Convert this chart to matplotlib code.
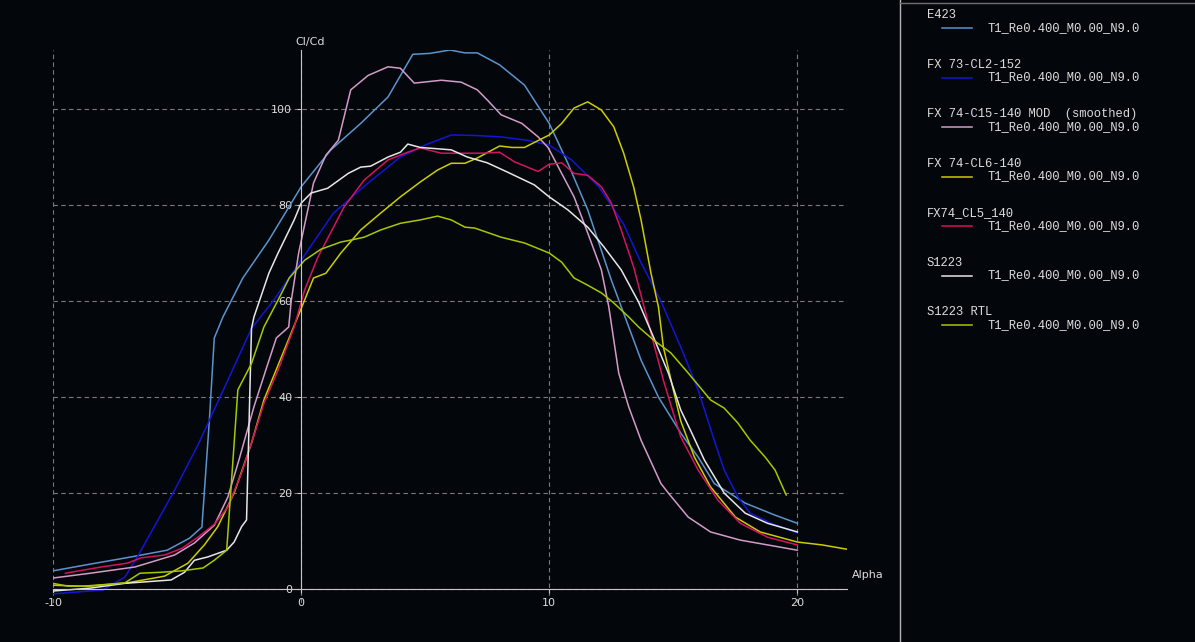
import matplotlib
matplotlib.use("Agg")
import matplotlib.pyplot as plt
from matplotlib.lines import Line2D

plt.rcParams["axes.unicode_minus"] = False

# --- data (Cl/Cd vs Alpha) ---
e423_a = [-10, -8.5, -6.85, -5.4, -4.5, -4.0, -3.7, -3.5, -3.15, -2.35, -1.3, 0, 1.2, 2.4, 3.5,
          4.5, 5.2, 6.0, 6.6, 7.1, 8.0, 9.0, 10.0, 10.75, 11.55, 12.5, 13.7, 14.4, 15.3, 16.0,
          16.65, 17.9, 19.1, 20.0]
e423_v = [3.8, 5.2, 6.7, 8.1, 10.6, 12.9, 35, 52.3, 56.7, 64.8, 72.7, 83.8, 91.5, 97, 102.5,
          111.4, 111.6, 112.3, 111.7, 111.7, 109.2, 105, 97, 88.7, 79, 64.4, 47.7, 40, 32.5, 27.5,
          22, 17.9, 15.4, 13.7]

fx73_a = [-10, -8, -7.1, -6.6, -5.1, -4.16, -3, -2.0, -1.1, 0, 1.3, 2.7, 4.0, 5.0, 6.05, 7, 8.06,
          9.1, 10.0, 10.9, 12.0, 13.0, 13.7, 14.5, 15.35, 16.0, 16.65, 17.05, 17.6, 18.1, 18.95, 20.0]
fx73_v = [-1, -0.2, 2.5, 6.7, 20.6, 30, 43, 54.3, 60.2, 68.5, 78.3, 84.6, 90, 92.5, 94.6, 94.5, 94.2,
          93.5, 92.5, 89.4, 83.8, 76, 68, 60, 49.8, 41.5, 31, 24.8, 19.2, 15.8, 13.7, 11.7]

fx74mod_a = [-10, -8.5, -6.7, -5.1, -4.3, -3.5, -2.95, -2.5, -1.9, -1.4, -1.0, -0.5, -0.4, -0.1,
             0.5, 1.0, 1.5, 2.0, 2.7, 3.5, 4.0, 4.56, 5.65, 6.45, 7.1, 7.5, 8.06, 8.9, 9.55, 9.95,
             10.5, 11.0, 11.55, 12.1, 12.4, 12.8, 13.2, 13.7, 14.5, 14.8, 15.6, 16.5, 17.7, 18.8, 20.0]
fx74mod_v = [2.3, 3.3, 4.6, 7.1, 9.6, 13.3, 19.2, 27, 38, 46, 52.3, 54.6, 60, 70,
             84.6, 90.4, 93.5, 104, 107, 108.8, 108.5, 105.4, 106, 105.6, 104, 101.9, 98.8, 97, 94.2, 92,
             86.6, 81.7, 74.2, 66.5, 58.8, 45, 38, 31, 22, 20, 15, 11.9, 10.2, 9.2, 8.1]

fx74cl6_a = [-10, -8.8, -7, -5.5, -4.56, -3.9, -3.36, -2.7, -2.0, -1.5, -0.68, 0.14, 0.5, 1.0, 1.6,
             2.4, 3.2, 4.0, 4.8, 5.5, 6.05, 6.6, 7.1, 8.0, 8.5, 9.0, 10.0, 10.5, 11.0, 11.55, 12.1,
             12.6, 13.0, 13.4, 13.7, 14.1, 14.4, 14.6, 15.0, 15.3, 15.85, 16.5, 17.5, 18.5, 20.0,
             21.0, 22.0]
fx74cl6_v = [0.8, 0.6, 1.3, 2.7, 5.4, 9.2, 13, 20, 30.4, 39.4, 49.8, 60.2, 64.8, 65.8, 70,
             74.8, 78.3, 81.7, 84.8, 87.3, 88.7, 88.7, 89.8, 92.3, 92, 92, 94.6, 97, 100.2, 101.5, 99.8,
             96.3, 90.8, 83.8, 76.9, 65.8, 58.8, 50.4, 41.5, 35, 27.5, 21.3, 15, 11.9, 9.8,
             9.2, 8.3]

fx74cl5_a = [-9.5, -8.06, -7, -6.45, -5.5, -4.8, -4.16, -3.5, -2.95, -2.4, -2.0, -1.5, -0.93, -0.28,
             0.14, 0.68, 1.73, 2.54, 3.5, 4.3, 4.8, 5.65, 6.45, 7.26, 8.0, 8.6, 9.55, 10.0, 10.5,
             11.0, 11.55, 12.1, 12.5, 12.9, 13.4, 14.1, 14.6, 15.05, 15.3, 16.0, 16.8, 17.7, 18.8, 20.0]
fx74cl5_v = [3.3, 4.6, 5.4, 6.5, 7.1, 8.5, 10.8, 13.5, 17.1, 24.2, 30.4, 38.7, 45.6, 54.6,
             62.3, 69.2, 79.6, 85.2, 89.4, 91, 91.9, 90.8, 90.8, 90.8, 91, 89, 87, 88.5, 88.8,
             86.6, 86.2, 83.8, 80.4, 74.8, 67.1, 53.3, 43.5, 35.8, 31.7, 24.8, 18.5, 13.7, 10.8, 9.2]

s1223_a = [-10, -8.5, -7.1, -6.3, -5.24, -4.7, -4.3, -3.76, -3.0, -2.7, -2.4, -2.2, -2.0, -1.9,
           -1.3, -0.93, -0.28, 0, 0.4, 1.07, 1.9, 2.4, 2.8, 3.5, 4.0, 4.3, 4.8, 6.05, 6.7, 7.5, 8.3,
           9.4, 10.0, 10.75, 11.55, 12.2, 12.9, 13.6, 14.2, 14.8, 15.3, 15.7, 16.25, 17.05, 17.9,
           18.8, 20.0]
s1223_v = [-0.4, 0.2, 1.2, 1.5, 1.9, 3.5, 6.0, 6.7, 8.1, 9.8, 13, 14.4, 54.3, 56.7,
           65.8, 70, 76.9, 80.4, 82.5, 83.5, 86.6, 87.9, 88.1, 90, 91, 92.7, 92, 91.5, 90, 88.8, 86.9,
           84.2, 81.7, 79, 75.4, 71.3, 66.5, 59.8, 52.5, 45, 37.3, 33, 26.9, 20, 15.8,
           13.7, 11.9]

s1223rtl_a = [-10, -9.4, -8.5, -7.1, -6.5, -5.65, -4.8, -3.95, -3.5, -3.0, -2.55, -2.0, -1.5, -0.93,
              -0.48, 0.14, 0.8, 1.6, 2.0, 2.54, 3.2, 4.0, 4.8, 5.5, 6.05, 6.6, 7.0, 8.06, 9.0, 10.0,
              10.5, 11.0, 11.55, 12.1, 12.6, 13.2, 13.6, 14.2, 14.9, 15.6, 16.5, 17.05, 17.6, 18.1,
              18.7, 19.1, 19.55]
s1223rtl_v = [1.2, 0.6, 0.6, 1.3, 3.3, 3.5, 3.8, 4.4, 6, 8.1, 41.5, 47, 54.6, 60.2,
              64.8, 68.5, 70.8, 72.3, 72.7, 73.3, 74.8, 76.2, 76.9, 77.7, 76.9, 75.4, 75.2, 73.3, 72.1, 70,
              68.1, 64.8, 63.3, 61.7, 59.6, 56.7, 54.6, 51.9, 49.2, 45, 39.4, 37.7, 34.6, 31,
              27.5, 24.8, 19.6]

foils = ["E423", "FX 73-CL2-152", "FX 74-C15-140 MOD  (smoothed)", "FX 74-CL6-140",
         "FX74_CL5_140", "S1223", "S1223 RTL"]
polar_name = "T1_Re0.400_M0.00_N9.0"
colors = ["#5b93cc", "#1414d6", "#d49ac8", "#cccc00", "#d4145c", "#e6e6e6", "#a6c800"]
series = [(e423_a, e423_v), (fx73_a, fx73_v), (fx74mod_a, fx74mod_v), (fx74cl6_a, fx74cl6_v),
          (fx74cl5_a, fx74cl5_v), (s1223_a, s1223_v), (s1223rtl_a, s1223rtl_v)]

bg = "#03070c"
fg = "#dcdcdc"
W, H = 1195, 642

fig = plt.figure(figsize=(W / 100, H / 100), dpi=100, facecolor=bg)
ax = fig.add_axes([53 / W, 1 - 603 / H, 794 / W, 553 / H], facecolor=bg)

for (a, v), c in zip(series, colors):
    ax.plot(a, v, color=c, lw=1.1)

ax.set_xlim(-10, 22)
ax.set_ylim(-2.9, 112.3)
ax.set_xticks([-10, 0, 10, 20])
ax.set_yticks([0, 20, 40, 60, 80, 100])

# axes through the origin, like the XFLR5 graph
for s in ["top", "right"]:
    ax.spines[s].set_visible(False)
ax.spines["left"].set_position(("data", 0))
ax.spines["bottom"].set_position(("data", 0))
ax.spines["left"].set_bounds(0, 112.3)
ax.spines["left"].set_color("#c8c8c8")
ax.spines["bottom"].set_color("#c8c8c8")
ax.tick_params(colors="#c8c8c8", labelcolor=fg, labelsize=8, length=3)
ax.grid(True, color="#7a7a7a", ls=(0, (4, 3)), lw=0.8)
ax.set_axisbelow(True)

fig.text(295 / W, 1 - 42 / H, "Cl/Cd", color=fg, fontsize=8, va="center")
fig.text(852 / W, 1 - 575 / H, "Alpha", color=fg, fontsize=8, va="center")

# separator between graph and legend
fig.add_artist(Line2D([900 / W, 900 / W], [0, 1], color="#b4b4b4", lw=1))
fig.add_artist(Line2D([900 / W, 1], [1 - 3 / H, 1 - 3 / H], color="#6e6e6e", lw=1))

# legend panel
for i, (name, c) in enumerate(zip(foils, colors)):
    y0 = 15 + 49.5 * i
    fig.text(927 / W, 1 - y0 / H, name, family="Liberation Mono", fontsize=8.7,
             color=fg, va="center")
    y1 = 1 - (y0 + 13) / H
    fig.add_artist(Line2D([942 / W, 972 / W], [y1, y1], color=c, lw=1.1))
    fig.text(987 / W, y1, polar_name, family="Liberation Mono", fontsize=8.7,
             color=fg, va="center")

fig.savefig("out.png", dpi=100, facecolor=bg)
